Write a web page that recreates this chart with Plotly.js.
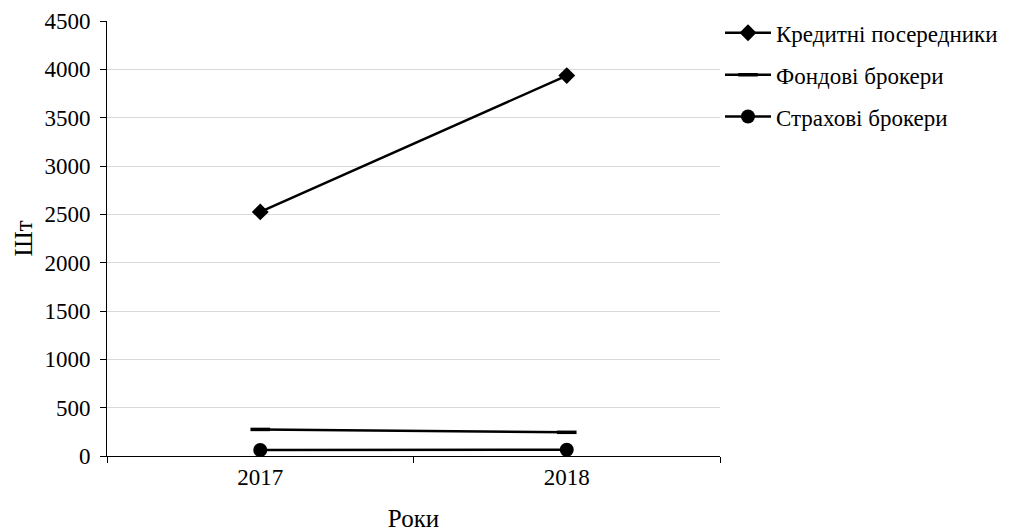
<!DOCTYPE html>
<html>
<head>
<meta charset="utf-8">
<script src="https://cdn.plot.ly/plotly-3.0.1.min.js"></script>
<style>body{margin:0;background:#fff}#chart{width:1018px;height:532px}</style>
</head>
<body>
<div id="chart"></div>
<script>
var years = ["2017", "2018"];
var seriesNames = ["Кредитні посередники", "Фондові брокери", "Страхові брокери"];
var creditIntermediaries = [2525, 3935];
var stockBrokers = [275, 245];
var insuranceBrokers = [62, 65];
var yTicks = [0, 500, 1000, 1500, 2000, 2500, 3000, 3500, 4000, 4500];

var FAMILY = "Liberation Serif";
function f(size) { return {family: FAMILY, size: size, color: "#000"}; }

var traces = [
  {x: years, y: creditIntermediaries, name: seriesNames[0], type: "scatter", mode: "lines+markers",
   legendgroup: "a",
   line: {color: "#000", width: 2.5}, marker: {symbol: "diamond", size: 13, color: "#000"}},
  {x: years, y: stockBrokers, name: seriesNames[1], type: "scatter", mode: "lines+markers",
   legendgroup: "b",
   line: {color: "#000", width: 2.5}, marker: {symbol: "line-ew", size: 14, color: "#000", line: {color: "#000", width: 3.5}}},
  {x: years, y: insuranceBrokers, name: seriesNames[2], type: "scatter", mode: "lines+markers",
   legendgroup: "c",
   line: {color: "#000", width: 2.5}, marker: {symbol: "circle", size: 14, color: "#000"}}
];

var layout = {
  width: 1018, height: 532,
  margin: {l: 107, r: 298, t: 20, b: 76},
  paper_bgcolor: "#fff", plot_bgcolor: "#fff",
  font: f(23),
  showlegend: true,
  legend: {x: 1.0, xanchor: "left", y: 1.02, yanchor: "top", traceorder: "grouped", tracegroupgap: 9,
           itemwidth: 46, font: f(23), bgcolor: "rgba(0,0,0,0)"},
  xaxis: {type: "category", range: [-0.5, 1.5], tickson: "boundaries", ticks: "outside", ticklen: 6,
          tickcolor: "#000", showline: true, linecolor: "#000", linewidth: 1, showgrid: false,
          tickfont: f(23),
          title: {text: "Роки", font: f(25), standoff: 22}},
  yaxis: {range: [0, 4500], tickvals: yTicks, ticktext: yTicks.map(String), ticks: "outside", ticklen: 6,
          ticklabelstandoff: 5,
          tickcolor: "#000", showline: true, linecolor: "#000", linewidth: 1,
          showgrid: true, gridcolor: "#d9d9d9", gridwidth: 1, zeroline: false,
          tickfont: f(23),
          title: {text: "Шт", font: f(25), standoff: 4}}
};

Plotly.newPlot("chart", traces, layout, {displayModeBar: false, staticPlot: true});
</script>
</body>
</html>
